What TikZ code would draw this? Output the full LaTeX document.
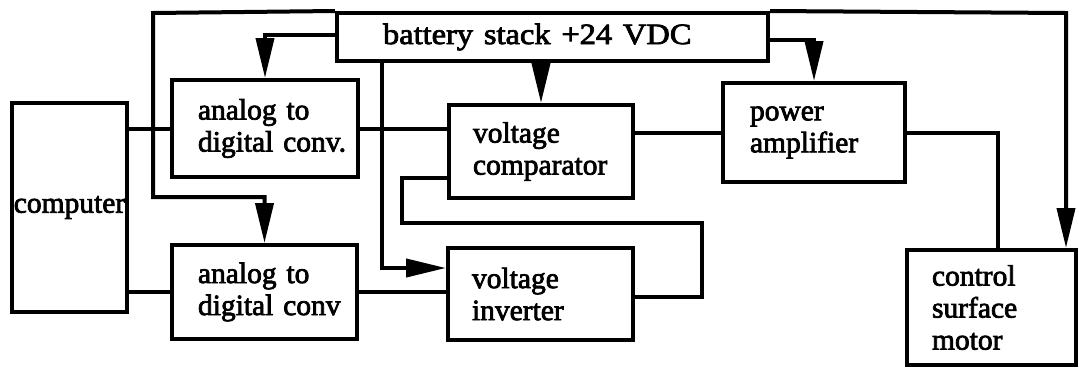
\documentclass[tikz,border=0pt]{standalone}
\usepackage{fontspec}
\setmainfont{Liberation Serif}[FakeBold=2.5]
\usetikzlibrary{arrows.meta}
\begin{document}
\begin{tikzpicture}[x=1pt,y=-1pt,
  every node/.style={font=\fontsize{29.5}{32}\selectfont},
  box/.style={draw, line width=4pt, inner ysep=0pt, align=left},
  wire/.style={line width=4pt},
  arr/.style={wire, -{Triangle[length=40pt,width=18pt]}}]
\useasboundingbox (0,0) rectangle (1079,368);
% blocks
\node[box, minimum width=431pt, minimum height=48pt, inner xsep=46pt, text width=339pt] (bat) at (552.5,37) {\scalebox{1.1}[1]{battery stack +24 VDC}};
\node[box, minimum width=115pt, minimum height=209pt, inner xsep=0pt, text width=115pt, align=center] (comp) at (69.5,207.5) {computer};
\node[box, minimum width=186pt, minimum height=97pt, inner xsep=26pt, text width=134pt] (adc1) at (265,128.5) {analog to\\digital~conv.};
\node[box, minimum width=185pt, minimum height=94pt, inner xsep=26pt, text width=133pt] (adc2) at (264.5,292) {analog to\\digital~conv};
\node[box, minimum width=184pt, minimum height=93pt, inner xsep=24pt, text width=136pt] (cmp) at (541,151.5) {voltage\\comparator};
\node[box, minimum width=185pt, minimum height=92pt, inner xsep=24pt, text width=137pt] (inv) at (540.5,294) {voltage\\inverter};
\node[box, minimum width=182pt, minimum height=99pt, inner xsep=27pt, text width=128pt] (pa) at (814,132.5) {power\\amplifier};
\node[box, minimum width=169pt, minimum height=115pt, inner xsep=25pt, text width=119pt] (motor) at (991.5,307.5) {control\\surface\\motor};
% helper coordinates
\coordinate (tl) at (153,13);
\coordinate (tr) at (1066,13);
\coordinate (ly) at (0,197);
\coordinate (by1) at (0,35);
\coordinate (by2) at (0,40);
\coordinate (vx) at (382,0);
\coordinate (iy) at (0,268);
\coordinate (c1) at (0,178);
\coordinate (lx) at (402,0);
\coordinate (ly2) at (0,223);
\coordinate (rx) at (702,0);
\coordinate (iy2) at (0,297);
\coordinate (mx) at (998,0);
% power distribution
\draw[arr] (bat.north west) -- (tl) |- (adc2.north |- ly) -- (adc2.north);
\draw[arr] (bat.north east) -- (tr) -- (motor.north -| tr);
\draw[arr] (bat.west |- by1) -| (adc1.north);
\draw[arr] (bat.east |- by2) -| (pa.north);
\draw[arr] (bat.south -| cmp.north) -- (cmp.north);
\draw[arr] (bat.south -| vx) |- (inv.west |- iy);
% signal wiring
\draw[wire] (comp.east |- adc1.west) -- (adc1.west);
\draw[wire] (comp.east |- adc2.west) -- (adc2.west);
\draw[wire] (adc1.east) -- (adc1.east -| cmp.west);
\draw[wire] (cmp.east |- pa.west) -- (pa.west);
\draw[wire] (cmp.west |- c1) -| (lx |- ly2) -| (rx |- iy2) -- (inv.east |- iy2);
\draw[wire] (adc2.east) -- (adc2.east -| inv.west);
\draw[wire] (pa.east) -| (motor.north -| mx);
\end{tikzpicture}
\end{document}
